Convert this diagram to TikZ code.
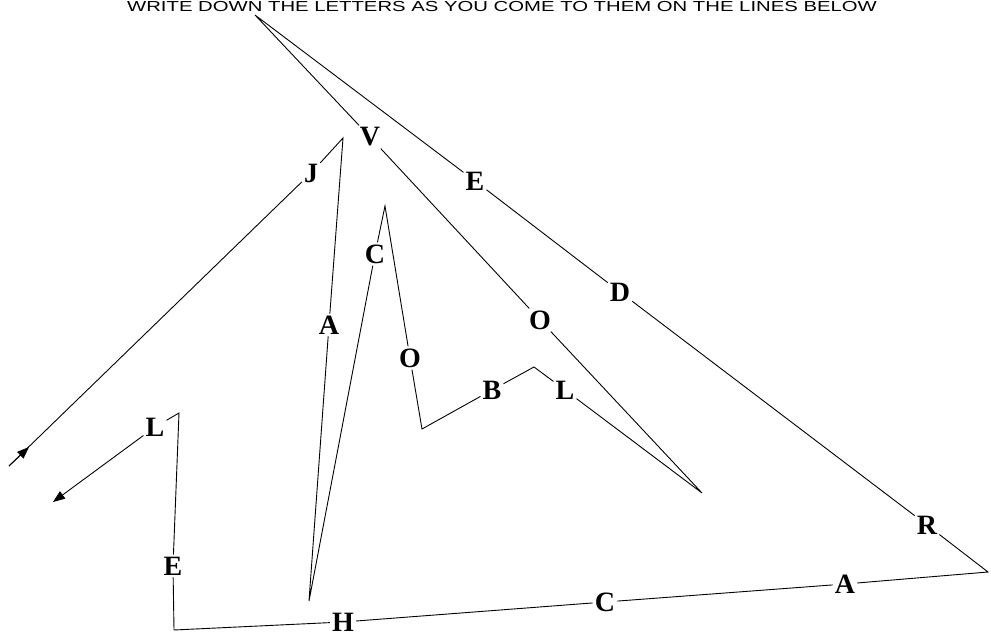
\documentclass[tikz,border=0pt]{standalone}
\usepackage{fontspec}
\setmainfont{Liberation Serif}
\newfontfamily\fuenteTitulo{Liberation Sans}
\usetikzlibrary{arrows.meta}
\tikzset{
  letra/.style={font=\fontsize{28}{28}\selectfont\bfseries, text=black,
    inner sep=2pt},
  trazo/.style={draw=black, line width=0.9pt, line join=miter},
  flecha/.style={trazo, -{Triangle[length=12pt, width=9pt]}},
  titulo/.style={font=\fuenteTitulo\fontsize{14.5}{16}\selectfont, anchor=base,
    inner sep=0pt},
}
\begin{document}
\begin{tikzpicture}[x=1pt, y=-1pt]
  \useasboundingbox (0,0) rectangle (991,636);
  \node[titulo] (encabezado) at (502,12)
    {\scalebox{1.4}[1]{WRITE DOWN THE LETTERS AS YOU COME TO THEM ON THE LINES BELOW}};
  % esquinas del recorrido
  \coordinate (inicio) at (9,466);
  \coordinate (marcaInicio) at (29,447);
  \coordinate (pico1) at (343,138);
  \coordinate (fondo1) at (309,601);
  \coordinate (pico2) at (385,206);
  \coordinate (valle1) at (422,429);
  \coordinate (pico3) at (534,367);
  \coordinate (punta) at (702,493);
  \coordinate (cima) at (255,15);
  \coordinate (esquina1) at (988,572);
  \coordinate (esquina2) at (174,630);
  \coordinate (cima2) at (179,413);
  \coordinate (fin) at (53,502);
  % letras
  \node[letra] (J) at (311,173) {J};
  \node[letra] (A1) at (329,325) {A};
  \node[letra] (C1) at (375,254) {C};
  \node[letra] (O1) at (410,358) {O};
  \node[letra] (B) at (492,390) {B};
  \node[letra] (L1) at (565,390) {L};
  \node[letra] (O2) at (540,320) {O};
  \node[letra] (V) at (370,137) {V};
  \node[letra] (E1) at (475,181) {E};
  \node[letra] (D) at (620,292) {D};
  \node[letra] (R) at (927,525) {R};
  \node[letra] (A2) at (845,584) {A};
  \node[letra] (C2) at (605,602) {C};
  \node[letra] (H) at (343,622) {H};
  \node[letra] (E2) at (173,566) {E};
  \node[letra] (L2) at (155,427) {L};
  \draw[flecha] (inicio) -- (marcaInicio);
  \draw[flecha] (inicio) -- (J) -- (pico1) -- (A1) -- (fondo1) -- (C1)
    -- (pico2) -- (O1) -- (valle1) -- (B) -- (pico3) -- (L1) -- (punta)
    -- (O2) -- (V) -- (cima) -- (E1) -- (D) -- (R) -- (esquina1) -- (A2)
    -- (C2) -- (H) -- (esquina2) -- (E2) -- (cima2) -- (L2) -- (fin);
\end{tikzpicture}
\end{document}
